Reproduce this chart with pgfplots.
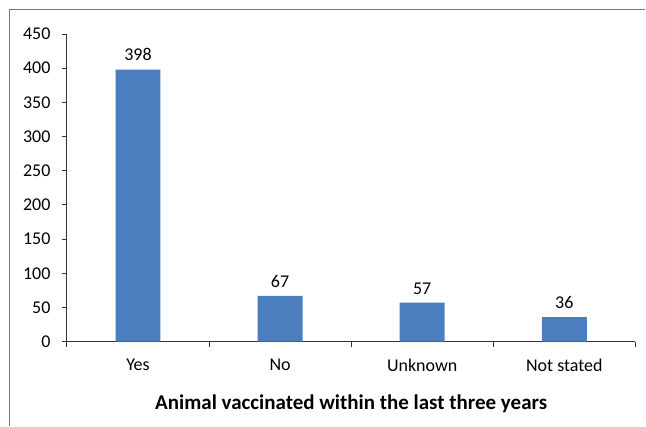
\documentclass[border=0pt]{standalone}
\usepackage{fontspec}
\setmainfont{Carlito}
\usepackage{pgfplots}
\pgfplotsset{compat=1.18}
\definecolor{barblue}{HTML}{4A7EBF}
\definecolor{framegray}{HTML}{767676}
\begin{document}
\begin{tikzpicture}[x=1pt,y=1pt]
\path (0,0) rectangle (646,426);
\draw[framegray, line width=1.3pt] (9.5,0) -- (9.5,416.5) -- (646,416.5);
\begin{axis}[
  at={(67pt,84pt)}, anchor=south west,
  scale only axis, width=569pt, height=308pt,
  xmin=-0.5, xmax=3.5, ymin=0, ymax=450,
  axis x line*=bottom, axis y line*=left,
  axis line style={black!80, line width=0.9pt},
  ytick={0,50,...,450},
  xtick={0,1,2,3},
  xticklabels={Yes,No,Unknown,Not stated},
  minor xtick={-0.5,0.5,1.5,2.5,3.5},
  tick align=outside,
  major tick length=5pt,
  minor tick length=5pt,
  x tick style={draw=none},
  minor x tick style={draw=black!80, line width=0.9pt},
  y tick style={black!80, line width=0.9pt},
  tick label style={font=\fontsize{18}{21}\selectfont},
  /pgf/number format/assume math mode=true,
  yticklabel style={xshift=-8pt},
  xticklabel style={yshift=-9pt},
  xlabel={\textbf{Animal vaccinated within the last three years}},
  xlabel style={font=\fontsize{21}{24}\selectfont, yshift=-16pt},
  ybar, bar width=45pt,
  nodes near coords,
  nodes near coords style={font=\fontsize{18}{21}\selectfont, black, yshift=5pt},
]
\addplot[fill=barblue, draw=none] coordinates {(0,398) (1,67) (2,57) (3,36)};
\end{axis}
\end{tikzpicture}
\end{document}
